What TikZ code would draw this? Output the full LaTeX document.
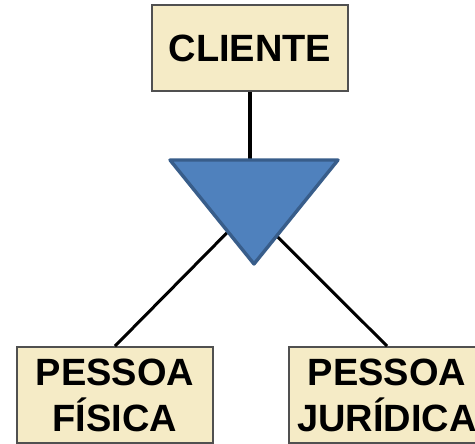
\documentclass[tikz,border=0pt]{standalone}
\usepackage{fontspec}
\setmainfont{Liberation Sans}
\usetikzlibrary{positioning, calc}
\definecolor{boxfill}{HTML}{F5EBC6}
\definecolor{boxline}{HTML}{505050}
\definecolor{trifill}{HTML}{4F81BD}
\definecolor{triline}{HTML}{385D8A}

\begin{document}
\begin{tikzpicture}[x=1pt, y=-1pt,
        entity/.style={draw=boxline, fill=boxfill, line width=1.8pt, inner sep=0pt,
            minimum width=196pt, align=center, font=\bfseries\fontsize{38}{46}\selectfont},
        link/.style={draw=black, line width=3pt}]
            \useasboundingbox (0,0) rectangle (475,444);
            \node[entity, minimum height=86pt] (cliente) at (250,48) {CLIENTE};
            \node[entity, minimum height=96pt] (fisica) at (115,395) {PESSOA\\F\'ISICA};
            \node[entity, minimum height=96pt] (juridica) at (387,395) {PESSOA\\JUR\'IDICA};
            % vertices of the specialization triangle
            \coordinate (tl) at (170,160);
            \coordinate (tr) at (338,160);
            \coordinate (tb) at (254,264);
            \coordinate (top) at (250,160);
            \coordinate (left) at ($(tl)!0.69!(tb)$);
            \coordinate (right) at ($(tr)!0.73!(tb)$);
            \draw[link, line width=4pt] (cliente) -- (top);
            \draw[link] (left) -- (fisica.north);
            \draw[link] (right) -- (juridica.north);
            \filldraw[fill=trifill, draw=triline, line width=3.4pt, line join=round]
                (tl) -- (tr) -- (tb) -- cycle;
        \end{tikzpicture}
\end{document}
